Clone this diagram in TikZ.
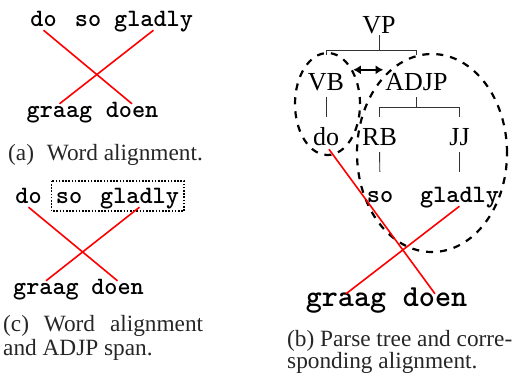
\documentclass[tikz,border=0pt]{standalone}
\usepackage{fontspec}
\setmainfont{Liberation Serif}
\usetikzlibrary{arrows.meta,calc}
\begin{document}
\begin{tikzpicture}[x=1pt,y=-1pt,
  word/.style={font=\fontsize{25}{25}\selectfont\ttfamily\bfseries, inner sep=1pt, text height=12pt, text depth=3pt, anchor=base},
  bigword/.style={font=\fontsize{30.6}{30}\selectfont\ttfamily\bfseries, inner sep=0pt, text height=12pt, text depth=4pt, anchor=base},
  cat/.style={font=\fontsize{26}{26}\selectfont, inner sep=0pt, text height=17pt, text depth=0pt, anchor=base},
  alink/.style={red, line width=1.6pt},
  tree/.style={black!80, line width=0.9pt},
  spanring/.style={line width=2.2pt, dash pattern=on 7pt off 7pt},
  dotbox/.style={line width=1.6pt, dash pattern=on 1.6pt off 1.6pt},
  dbl/.style={line width=2.5pt, {Latex[length=7.5pt,width=9pt]}-{Latex[length=7.5pt,width=9pt]}},
  capt/.style={font=\fontsize{23.3}{23}\selectfont, text=black!85, inner sep=0pt, anchor=base west},
  ]
\useasboundingbox (0,0) rectangle (516,378);

% ---- (a) word alignment
\node[word] (a-do) at (43.5,26) {do};
\node[word] (a-so) at (88,26) {so};
\node[word] (a-gladly) at (153.5,26) {gladly};
\node[word] (a-graag) at (59.5,117) {graag};
\node[word] (a-doen) at (132,117) {doen};
\draw[alink] (a-do.south) -- (a-doen.north);
\draw[alink] (a-gladly.south) -- (a-graag.north);
\node[capt] (a-cap) at (8,160) {(a)\hskip0.55em Word alignment.};

% ---- (c) word alignment and ADJP span
\node[word] (c-do) at (28.5,203) {do};
\node[word] (c-so) at (69,203) {so};
\node[word] (c-gladly) at (139.5,203) {gladly};
\node[word] (c-graag) at (46,294) {graag};
\node[word] (c-doen) at (117.5,294) {doen};
\draw[dotbox] ($(c-so.north west)+(-3,-9)$) rectangle ($(c-gladly.south east)+(4,4)$);
\draw[alink] (c-do.south) -- (c-doen.north);
\draw[alink] (c-gladly.south) -- (c-graag.north);
\node[capt] (c-cap1) at (3,331) {\hbox to 200pt{(c)\hfill Word\hfill alignment}};
\node[capt] (c-cap2) at (3,355) {and ADJP span.};

% ---- (b) parse tree
\node[cat] (VP) at (379,33) {VP};
\node[cat] (VB) at (326,90) {VB};
\node[cat] (ADJP) at (416.5,90) {ADJP};
\node[cat] (b-do) at (326,145) {do};
\node[cat] (RB) at (379.5,145) {RB};
\node[cat] (JJ) at (459.5,145) {JJ};
\node[word] (b-so) at (380,202) {so};
\node[word] (b-gladly) at (459.5,202) {gladly};
\node[bigword] (b-graag) at (346,306) {graag};
\node[bigword] (b-doen) at (435,306) {doen};

\coordinate (bar1) at (0,50);
\coordinate (bar2) at (0,107);
\draw[tree] ([yshift=-2pt]VP.south) -- (VP.south |- bar1);
\draw[tree] ($(VB.south |- bar1)+(0,5)$) -- (VB.south |- bar1) -- (ADJP.south |- bar1) -- ++(0,5);
\draw[tree, shorten <=7pt, shorten >=11pt] (VB.south) -- (b-do.north);
\draw[tree] ([yshift=-7pt]ADJP.south) -- (ADJP.south |- bar2);
\draw[tree] ($(RB.north |- bar2)+(0,10)$) -- (RB.north |- bar2) -- (JJ.north |- bar2) -- ++(0,10);
\draw[tree, shorten <=7pt, shorten >=17pt] (RB.south) -- (b-so.north);
\draw[tree, shorten <=7pt, shorten >=17pt] (JJ.south) -- (b-gladly.north);

\draw[dbl] ($(VB.north east)+(9,-3)$) -- ($(ADJP.north west)+(-2,-3)$);

\coordinate (e1) at (327.5,104);
\coordinate (e2) at (432,153);
\draw[spanring] (e1) ellipse [x radius=32.5pt, y radius=51pt];
\draw[spanring] (e2) ellipse [x radius=75pt, y radius=99pt];

\draw[alink, shorten <=5pt] (b-do.south) -- (b-doen.north);
\draw[alink] (b-gladly.south) -- (b-graag.north);

\node[capt] (b-cap1) at (287,346) {(b) Parse tree and corre-};
\node[capt] (b-cap2) at (287,368) {sponding alignment.};
\end{tikzpicture}
\end{document}
